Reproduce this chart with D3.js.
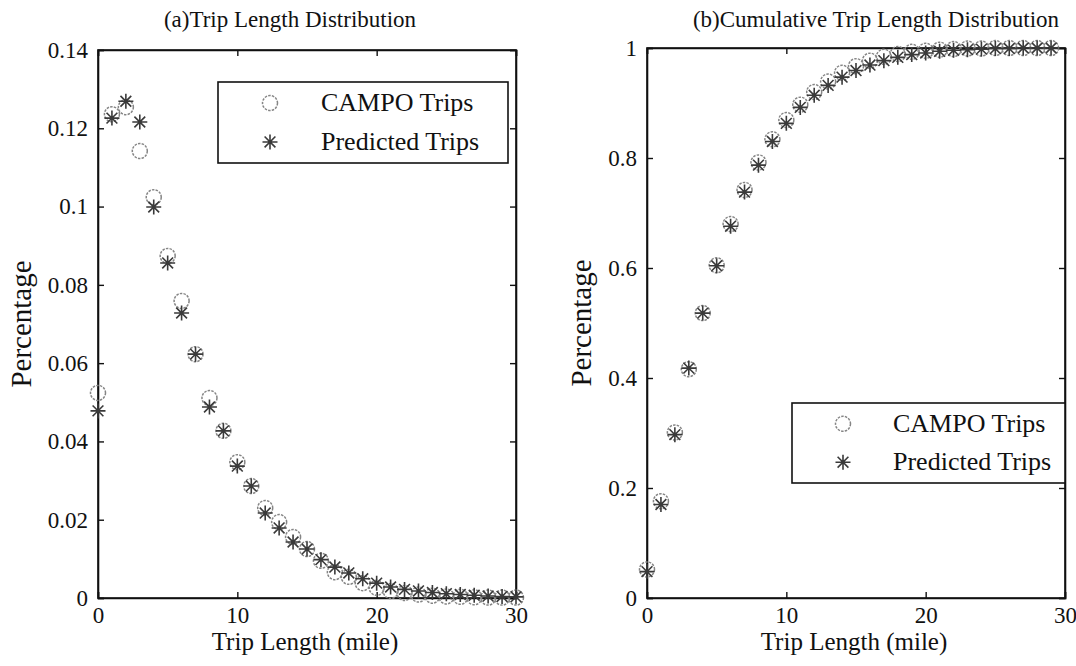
<!DOCTYPE html>
<html>
<head>
<meta charset="utf-8">
<script src="https://cdn.jsdelivr.net/npm/d3@7"></script>
<style>
  html, body { margin: 0; padding: 0; background: #fff; }
  svg { display: block; }
  text { font-family: "Liberation Serif", "Times New Roman", serif; fill: #111; }
</style>
</head>
<body>
<svg id="chart" width="1076" height="666"></svg>
<script>
// ---- Data ----
const tripLengthA = d3.range(0, 31);   // 0..30 miles
const campoDist = [0.0524, 0.1236, 0.1254, 0.1142, 0.1024, 0.0874, 0.0759, 0.0623, 0.0511, 0.0427,
  0.0347, 0.0286, 0.0230, 0.0194, 0.0156, 0.0125, 0.0095, 0.0066, 0.0054, 0.0038,
  0.0026, 0.0018, 0.0013, 0.0009, 0.0006, 0.0004, 0.0003, 0.0002, 0.0001, 0.0001, 0.0001];
const predDist = [0.0478, 0.1226, 0.1269, 0.1216, 0.0999, 0.0856, 0.0728, 0.0623, 0.0488, 0.0427,
  0.0337, 0.0286, 0.0217, 0.0179, 0.0143, 0.0125, 0.0098, 0.0079, 0.0064, 0.0049,
  0.0038, 0.0028, 0.0022, 0.0018, 0.0014, 0.0011, 0.0009, 0.0007, 0.0005, 0.0004, 0.0003];

const tripLengthB = d3.range(0, 30);   // 0..29 miles
const campoCum = [0.052, 0.176, 0.301, 0.416, 0.518, 0.605, 0.680, 0.742, 0.792, 0.834,
  0.869, 0.897, 0.920, 0.939, 0.955, 0.967, 0.977, 0.984, 0.989, 0.993,
  0.995, 0.997, 0.998, 0.999, 0.999, 1.000, 1.000, 1.000, 1.000, 1.000];
const predCum = [0.048, 0.170, 0.297, 0.418, 0.518, 0.604, 0.676, 0.738, 0.787, 0.830,
  0.863, 0.892, 0.914, 0.932, 0.947, 0.959, 0.969, 0.977, 0.983, 0.988,
  0.991, 0.994, 0.996, 0.997, 0.998, 0.999, 0.999, 1.000, 1.000, 1.000];

const xTicks = [0, 10, 20, 30];
const yTicksA = [0, 0.02, 0.04, 0.06, 0.08, 0.1, 0.12, 0.14];
const yTicksB = [0, 0.2, 0.4, 0.6, 0.8, 1];
const seriesNames = ["CAMPO Trips", "Predicted Trips"];
const titles = ["(a)Trip Length Distribution", "(b)Cumulative Trip Length Distribution"];
const xLabel = "Trip Length (mile)";
const yLabel = "Percentage";

// ---- Drawing ----
const svg = d3.select("#chart");

// 8-armed MATLAB-like asterisk
const asteriskType = {
  draw(ctx, size) {
    const r = Math.sqrt(size) / 2;
    const d = r * 0.72;
    ctx.moveTo(0, -r); ctx.lineTo(0, r);
    ctx.moveTo(-r, 0); ctx.lineTo(r, 0);
    ctx.moveTo(-d, -d); ctx.lineTo(d, d);
    ctx.moveTo(-d, d); ctx.lineTo(d, -d);
  }
};
const circleSym = d3.symbol().type(d3.symbolCircle).size(Math.PI * 7.5 * 7.5);
const starSym = d3.symbol().type(asteriskType).size(15 * 15);

function drawCircle(g, x, y) {
  g.append("path").attr("d", circleSym()).attr("transform", `translate(${x},${y})`)
    .attr("fill", "none").attr("stroke", "#858585").attr("stroke-width", 1.5)
    .attr("stroke-dasharray", "2.5 1.2");
}
function drawStar(g, x, y) {
  g.append("path").attr("d", starSym()).attr("transform", `translate(${x},${y})`)
    .attr("fill", "none").attr("stroke", "#3a3a3a").attr("stroke-width", 1.6);
}

function panel(cfg) {
  const { x0, x1, y0, y1, yDomain, yTicks, xs, s1, s2, title, titleX, legend, yLabelX, tickFmt } = cfg;
  const x = d3.scaleLinear().domain([0, 30]).range([x0, x1]);
  const y = d3.scaleLinear().domain(yDomain).range([y1, y0]);
  const g = svg.append("g");

  // axes: ticks inward on all four sides
  const tl = 6;
  g.append("g").attr("transform", `translate(0,${y1})`)
    .call(d3.axisBottom(x).tickValues(xTicks).tickSize(-tl).tickPadding(9).tickFormat(d3.format("d")));
  g.append("g").attr("transform", `translate(0,${y0})`)
    .call(d3.axisTop(x).tickValues(xTicks).tickSize(-tl).tickFormat(""));
  g.append("g").attr("transform", `translate(${x0},0)`)
    .call(d3.axisLeft(y).tickValues(yTicks).tickSize(-tl).tickPadding(10).tickFormat(tickFmt));
  g.append("g").attr("transform", `translate(${x1},0)`)
    .call(d3.axisRight(y).tickValues(yTicks).tickSize(-tl).tickFormat(""));
  g.selectAll(".domain").attr("stroke", "#111").attr("stroke-width", 1.6);
  g.selectAll(".tick line").attr("stroke", "#111").attr("stroke-width", 1.4);
  g.selectAll(".tick text").style("font-family", "'Liberation Serif', serif")
    .style("font-size", "23px").attr("fill", "#111");
  g.append("rect").attr("x", x0).attr("y", y0).attr("width", x1 - x0).attr("height", y1 - y0)
    .attr("fill", "none").attr("stroke", "#111").attr("stroke-width", 1.6);

  // markers
  const mk = g.append("g");
  xs.forEach((d, i) => drawCircle(mk, x(d), y(s1[i])));
  xs.forEach((d, i) => drawStar(mk, x(d), y(s2[i])));

  // title
  svg.append("text").attr("x", titleX).attr("y", 27).attr("text-anchor", "middle")
    .style("font-size", "23px").text(title);
  // x label
  svg.append("text").attr("x", (x0 + x1) / 2 - 2).attr("y", 650).attr("text-anchor", "middle")
    .style("font-size", "25px").text(xLabel);
  // y label
  svg.append("text").attr("transform", `translate(${yLabelX},${(y0 + y1) / 2}) rotate(-90)`)
    .attr("text-anchor", "middle").style("font-size", "29px").text(yLabel);

  // legend
  const L = legend;
  const lg = svg.append("g");
  lg.append("rect").attr("x", L.x).attr("y", L.y).attr("width", L.w).attr("height", L.h)
    .attr("fill", "#fff").attr("stroke", "#111").attr("stroke-width", 1.6);
  drawCircle(lg, L.mx, L.y + L.h * 0.26);
  drawStar(lg, L.mx, L.y + L.h * 0.74);
  lg.append("text").attr("x", L.tx).attr("y", L.y + L.h * 0.26 + 8).style("font-size", "26px").text(seriesNames[0]);
  lg.append("text").attr("x", L.tx).attr("y", L.y + L.h * 0.74 + 8).style("font-size", "26px").text(seriesNames[1]);
}

panel({
  x0: 98, x1: 516, y0: 50, y1: 598, yDomain: [0, 0.14], yTicks: yTicksA,
  xs: tripLengthA, s1: campoDist, s2: predDist, title: titles[0], titleX: 290,
  legend: { x: 218, y: 82, w: 290, h: 81, mx: 270, tx: 321 }, yLabelX: 31,
  tickFmt: d => d === 0 ? "0" : d3.format("")(+d.toFixed(2))
});
panel({
  x0: 647, x1: 1065, y0: 48, y1: 598, yDomain: [0, 1], yTicks: yTicksB,
  xs: tripLengthB, s1: campoCum, s2: predCum, title: titles[1], titleX: 876,
  legend: { x: 792, y: 403, w: 273, h: 80, mx: 843, tx: 893 }, yLabelX: 591,
  tickFmt: d => d3.format("")(+d.toFixed(1))
});
</script>
</body>
</html>
